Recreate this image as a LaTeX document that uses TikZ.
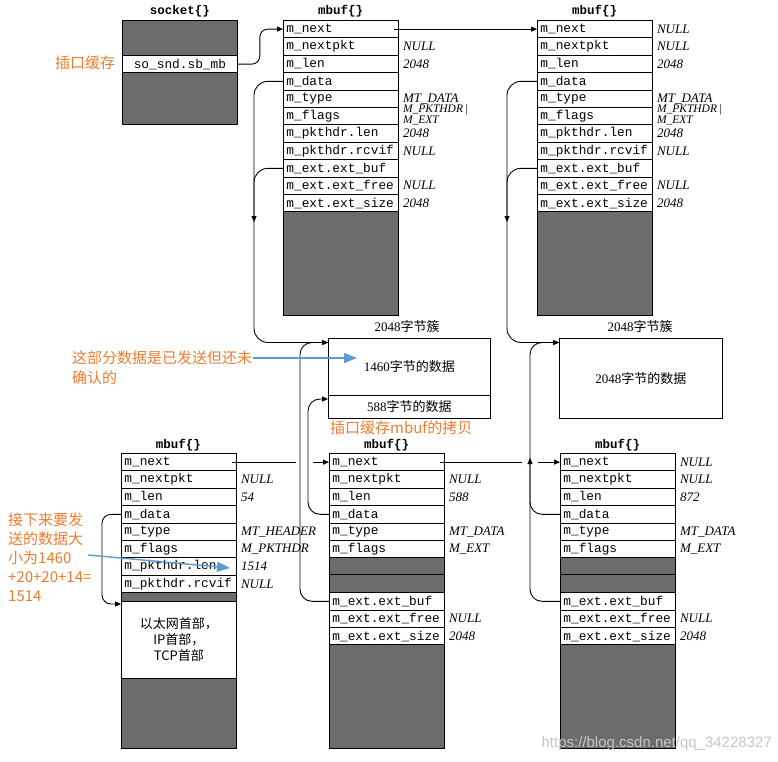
\documentclass[tikz,border=0pt]{standalone}
\usepackage{fontspec}
\setmainfont{Liberation Serif}
\setmonofont{Liberation Mono}
\newfontfamily\cjk{Noto Sans CJK SC}
\newfontfamily\wmfont{Liberation Sans}
\usetikzlibrary{arrows.meta}
\definecolor{anno}{HTML}{ED7D31}
\definecolor{annoblue}{HTML}{5B9BD5}
\definecolor{texgray}{HTML}{6C6C6C}
\tikzset{
  fld/.style={draw, line width=0.8pt, fill=white, anchor=north west,
    minimum width=115pt, text width=109pt, inner xsep=3pt, inner ysep=0pt,
    minimum height=17.4pt, align=left, font=\fontsize{12.8}{14}\selectfont\ttfamily},
  val/.style={anchor=west, inner sep=0pt, font=\fontsize{13}{13}\selectfont\itshape},
  hdr/.style={inner sep=0pt, font=\fontsize{12.5}{13}\selectfont\ttfamily\bfseries},
  texbox/.style={draw, line width=0.8pt, fill=texgray},
  clbox/.style={draw, line width=0.8pt, anchor=north west, inner sep=0pt,
    font=\fontsize{13}{15}\selectfont},
  ptr/.style={line width=0.9pt, -{Triangle[length=6pt,width=5pt]}},
  pline/.style={line width=0.9pt},
  annotxt/.style={text=anno, inner sep=1pt, font=\fontsize{15}{19}\selectfont\cjk},
  bluearr/.style={draw=annoblue, line width=1.4pt, -{Triangle[length=13pt,width=10pt]}, annoblue}
}
\begin{document}
\begin{tikzpicture}[x=1pt,y=-1pt]
\useasboundingbox (0,0) rectangle (778,761);
\fill[white] (0,0) rectangle (778,761);

% ---------- socket ----------
\draw[texbox] (122,20) rectangle (237,124);
\node[fld, align=center] (sock) at (122,55) {so\_snd.sb\_mb};
\node[hdr] (sockhdr) at (180,11) {socket\{\}};

% ---------- top mbufs ----------
\foreach \p/\x/\nv in {A/283/{}, B/537/NULL} {
  \foreach \i/\n/\t/\v in {0/next/m\_next/\nv, 1/nextpkt/m\_nextpkt/NULL, 2/len/m\_len/2048,
      3/data/m\_data/{}, 4/type/m\_type/MT\_DATA, 5/flags/m\_flags/{}, 6/plen/m\_pkthdr.len/2048,
      7/rcvif/m\_pkthdr.rcvif/NULL, 8/extbuf/m\_ext.ext\_buf/{}, 9/extfree/m\_ext.ext\_free/NULL,
      10/extsize/m\_ext.ext\_size/2048} {
    \node[fld] (\p-\n) at (\x,{20+17.4*\i}) {\t};
    \node[val] at ([xshift=4pt]\p-\n.east) {\v};
  }
  \node[val, align=left, font=\fontsize{11.5}{9.5}\selectfont\itshape] at ([xshift=4pt,yshift=1pt]\p-flags.east) {M\_PKTHDR\,|\\M\_EXT};
  \draw[texbox] (\x,211.4) rectangle ({\x+115},315);
  \node[hdr] at ({\x+57.5},11) {mbuf\{\}};
}

% ---------- clusters ----------
\node[hdr, font=\fontsize{13}{15}\selectfont] (c1lab) at (407,327) {2048{\cjk 字节簇}};
\node[clbox, minimum width=162pt, minimum height=57pt] (c1a) at (328,338) {1460{\cjk 字节的数据}};
\node[clbox, minimum width=162pt, minimum height=23pt] (c1b) at (328,395) {588{\cjk 字节的数据}};
\node[hdr, font=\fontsize{13}{15}\selectfont] (c2lab) at (640,327) {2048{\cjk 字节簇}};
\node[clbox, minimum width=163pt, minimum height=80pt] (c2) at (559,338) {2048{\cjk 字节的数据}};

% ---------- bottom-left mbuf ----------
\foreach \i/\n/\t/\v in {0/next/m\_next/{}, 1/nextpkt/m\_nextpkt/NULL, 2/len/m\_len/54,
    3/data/m\_data/{}, 4/type/m\_type/MT\_HEADER, 5/flags/m\_flags/M\_PKTHDR,
    6/plen/m\_pkthdr.len/1514, 7/rcvif/m\_pkthdr.rcvif/NULL} {
  \node[fld] (L-\n) at (121,{453+17.4*\i}) {\t};
  \node[val] at ([xshift=4pt]L-\n.east) {\v};
}
\draw[texbox] (121,592.2) rectangle (236,601);
\node[clbox, minimum width=115pt, minimum height=77pt, align=center,
  font=\fontsize{13}{16}\selectfont\cjk] (blw) at (121,601) {以太网首部，\\IP首部，\\TCP首部};
\draw[texbox] (121,678) rectangle (236,748);
\node[hdr] at (178.5,445) {mbuf\{\}};

% ---------- bottom middle and right mbufs ----------
\foreach \p/\x/\lv in {M/329/588, R/560/872} {
  \foreach \i/\n/\t/\v in {0/next/m\_next/{}, 1/nextpkt/m\_nextpkt/NULL, 2/len/m\_len/\lv,
      3/data/m\_data/{}, 4/type/m\_type/MT\_DATA, 5/flags/m\_flags/M\_EXT,
      8/extbuf/m\_ext.ext\_buf/{}, 9/extfree/m\_ext.ext\_free/NULL, 10/extsize/m\_ext.ext\_size/2048} {
    \node[fld] (\p-\n) at (\x,{453+17.4*\i}) {\t};
    \node[val] at ([xshift=4pt]\p-\n.east) {\v};
  }
  \draw[texbox] (\x,557.4) rectangle ({\x+115},574.8);
  \draw[texbox] (\x,574.8) rectangle ({\x+115},592.2);
  \draw[texbox] (\x,644.4) rectangle ({\x+115},748);
  \node[hdr] at ({\x+57.5},445) {mbuf\{\}};
}
\node[val] at ([xshift=4pt]R-next.east) {NULL};

% ---------- coordinates ----------
\coordinate (c1in) at ([yshift=-4.5pt]c1a.north west);
\coordinate (c1low) at ([yshift=-4pt]c1b.north west);
\coordinate (c2in) at ([yshift=-4.5pt]c2.north west);
\coordinate (amid) at (254,222);
\coordinate (bmid) at (507,222);
\coordinate (rmid) at (530,458);
\coordinate (blin) at ([yshift=-3pt]blw.north west);

% ---------- pointers ----------
\draw[ptr, rounded corners=8pt] (sock.east) -- ++(22,0) |- (A-next.west);
\draw[ptr] ([xshift=-5pt]A-next.east) -- (B-next.west);

\draw[ptr, rounded corners=14pt] (A-data.west) -| (amid);
\draw[pline, rounded corners=14pt] (A-extbuf.west) -| (amid);
\draw[ptr, rounded corners=14pt] (amid) |- (c1in);

\draw[ptr, rounded corners=14pt] (B-data.west) -| (bmid);
\draw[pline, rounded corners=14pt] (B-extbuf.west) -| (bmid);
\draw[ptr, rounded corners=14pt] (bmid) |- (c2in);

\draw[pline] ([xshift=-5pt]L-next.east) -- ([xshift=59pt]L-next.east);
\draw[ptr] ([xshift=76pt]L-next.east) -- (M-next.west);
\draw[ptr, rounded corners=9pt] (L-data.west) -| ([xshift=-19pt]blin) -- (blin);

\draw[pline] ([xshift=-5pt]M-next.east) -- ([xshift=77pt]M-next.east);
\draw[ptr] ([xshift=93pt]M-next.east) -- (R-next.west);
\draw[ptr, rounded corners=12pt] (M-data.west) -| ([xshift=-20pt]c1low) -- (c1low);
\draw[ptr, rounded corners=12pt] (M-extbuf.west) -| ([xshift=-28pt]c1in) -- (c1in);

\draw[ptr, rounded corners=12pt] (R-data.west) -| (rmid);
\draw[pline, rounded corners=12pt] (R-extbuf.west) -| (rmid);
\draw[ptr, rounded corners=12pt] (rmid) |- (c2in);

% ---------- annotations ----------
\node[annotxt] (annC) at (85,63) {插口缓存};
\node[annotxt, anchor=west] (annA1) at (71,358) {这部分数据是已发送但还未};
\node[annotxt, anchor=west] (annA2) at (71,378) {确认的};
\coordinate (annAt) at (357,358);
\draw[bluearr] (annA1.east) -- (annAt);
\node[annotxt, anchor=west] (annD) at (329,428) {插口缓存mbuf的拷贝};
\node[annotxt, anchor=north west, align=left, inner sep=0pt] (annB) at (8,513) {接下来要发\\送的数据大\\小为1460\\+20+20+14=\\1514};
\coordinate (annBs) at (88,555);
\coordinate (annBt) at (230,568);
\draw[bluearr] (annBs) -- (annBt);

% ---------- watermark ----------
\node[anchor=east, inner sep=0pt, text=black!22, font=\fontsize{15}{15}\selectfont\wmfont] (wm) at (772,744) {https://blog.csdn.net/qq\_34228327};
\end{tikzpicture}
\end{document}
